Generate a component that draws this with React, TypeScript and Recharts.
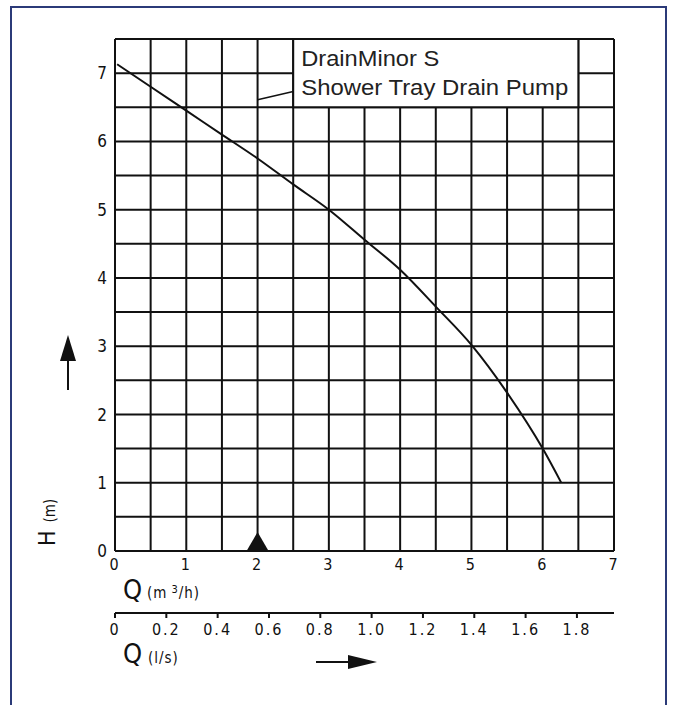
import React from 'react';
import {
  LineChart, Line, XAxis, YAxis, CartesianGrid, ReferenceArea, ReferenceLine, ReferenceDot, Label,
} from 'recharts';

// pump curve: Q in m3/h, H in m
const flowM3h = [0.03, 0.5, 1.0, 1.5, 2.0, 2.5, 3.0, 3.5, 4.0, 4.5, 5.0, 5.5, 6.0, 6.26];
const headM = [7.13, 6.8, 6.45, 6.1, 5.75, 5.37, 5.0, 4.56, 4.12, 3.58, 3.02, 2.32, 1.5, 1.0];

const ticksQ = [0, 1, 2, 3, 4, 5, 6, 7];
const ticksH = [0, 1, 2, 3, 4, 5, 6, 7];
const ticksLs = [0, 0.2, 0.4, 0.6, 0.8, 1.0, 1.2, 1.4, 1.6, 1.8];
const gridQ = [0, 0.5, 1, 1.5, 2, 2.5, 3, 3.5, 4, 4.5, 5, 5.5, 6, 6.5, 7];
const gridH = [0, 0.5, 1, 1.5, 2, 2.5, 3, 3.5, 4, 4.5, 5, 5.5, 6, 6.5, 7, 7.5];

const titleLines = ['DrainMinor S', 'Shower Tray Drain Pump'];
const markerQ = 2;

// 1 l/s = 3.6 m3/h, the l/s scale is drawn on the m3/h axis
const LS_TO_M3H = 3.6;

const curveData = flowM3h.map((q, i) => ({ q, h: headM[i] }));

const isoFont = "'DejaVu Sans Condensed', 'Liberation Sans Narrow', 'DejaVu Sans', sans-serif";
const ink = '#111';

const tickStyle = { fontFamily: isoFont, fontSize: 16, fill: ink, letterSpacing: 2 };

const QmLabel = (props: any) => {
  const { x, y } = props.viewBox;
  return (
    <g>
      <text x={x + 8} y={y + 48} fontFamily={isoFont} fontSize={27} fill={ink}>Q</text>
      <text x={x + 32} y={y + 47} fontFamily={isoFont} fontSize={15} fill={ink} letterSpacing={1}>
        (m
        <tspan dx={4} dy={-5} fontSize={11}>3</tspan>
        <tspan dy={5}>/h)</tspan>
      </text>
    </g>
  );
};

const QlsLabel = (props: any) => {
  const { x, y } = props.viewBox;
  const ay = y + 49;
  return (
    <g>
      <text x={x + 8} y={y + 50} fontFamily={isoFont} fontSize={27} fill={ink}>Q</text>
      <text x={x + 33} y={y + 49.5} fontFamily={isoFont} fontSize={15} fill={ink} letterSpacing={1}>(l/s)</text>
      <line x1={x + 201} x2={x + 235} y1={ay} y2={ay} stroke={ink} strokeWidth={2} />
      <polygon points={`${x + 233},${ay - 7} ${x + 262},${ay} ${x + 233},${ay + 7}`} fill={ink} />
    </g>
  );
};

const HLabel = (props: any) => {
  const { x, y, height } = props.viewBox;
  const bx = x + 20;
  const by = y + height - 5;
  const ax = x + 33;
  return (
    <g>
      <text x={bx} y={by} transform={`rotate(-90, ${bx}, ${by})`} fontFamily={isoFont} fill={ink}>
        <tspan fontSize={23}>H</tspan>
        <tspan fontSize={15} dx={8}>(m)</tspan>
      </text>
      <line x1={ax} x2={ax} y1={y + 351} y2={y + 320} stroke={ink} strokeWidth={2} />
      <polygon points={`${ax - 8},${y + 322} ${ax},${y + 296} ${ax + 8},${y + 322}`} fill={ink} />
    </g>
  );
};

const BoxLabel = (props: any) => {
  const { x, y } = props.viewBox;
  return (
    <g fontFamily="'Liberation Sans', Arial, sans-serif" fontSize={22} fill="#222">
      <text x={x + 8} y={y + 27} textLength={138} lengthAdjust="spacingAndGlyphs">{titleLines[0]}</text>
      <text x={x + 8} y={y + 56} textLength={267} lengthAdjust="spacingAndGlyphs">{titleLines[1]}</text>
    </g>
  );
};

const Marker = (props: any) => {
  const { cx, cy } = props;
  return <polygon points={`${cx - 11},${cy} ${cx + 11},${cy} ${cx},${cy - 19}`} fill={ink} />;
};

const App = () => {
  return (
    <div style={{ position: 'absolute', left: 0, top: 0, width: 674, height: 705, background: '#fff', overflow: 'hidden' }}>
      <div style={{
        position: 'absolute', left: 10, top: 6, width: 657, height: 740,
        border: '2px solid #2b3a78', boxSizing: 'border-box',
      }} />
      <div style={{ position: 'absolute', left: 0, top: 0 }}>
        <LineChart width={674} height={705} data={curveData} margin={{ top: 39, right: 60, bottom: 52, left: 35 }}>
          <CartesianGrid
            xAxisId="a" yAxisId="h"
            stroke={ink} strokeWidth={2}
            horizontalValues={gridH} verticalValues={gridQ}
          />
          <XAxis
            xAxisId="a" dataKey="q" type="number" domain={[0, 7]} ticks={ticksQ}
            axisLine={false} tickLine={false} height={62} tick={tickStyle} interval={0}
          >
            <Label content={QmLabel} />
          </XAxis>
          <XAxis
            xAxisId="b" dataKey="q" type="number" domain={[0, 7]}
            ticks={ticksLs.map((v) => v * LS_TO_M3H)}
            axisLine={{ stroke: ink, strokeWidth: 2 }} tickLine={{ stroke: ink, strokeWidth: 2 }}
            tickSize={5} tickMargin={6} height={40} tick={tickStyle} interval={0}
            tickFormatter={(v: number) => (v === 0 ? '0' : (v / LS_TO_M3H).toFixed(1))}
          >
            <Label content={QlsLabel} />
          </XAxis>
          <YAxis
            yAxisId="h" type="number" domain={[0, 7.5]} ticks={ticksH} width={80}
            axisLine={false} tickLine={false} interval={0}
            tick={{ ...tickStyle, fontSize: 17, letterSpacing: 0 }}
          >
            <Label content={HLabel} />
          </YAxis>
          <ReferenceArea
            xAxisId="a" yAxisId="h" x1={2.5} x2={6.5} y1={6.5} y2={7.5}
            fill="#fff" fillOpacity={1} stroke={ink} strokeWidth={2}
            label={<BoxLabel />}
          />
          <ReferenceLine
            xAxisId="a" yAxisId="h"
            segment={[{ x: 2.0, y: 6.61 }, { x: 2.5, y: 6.73 }]}
            stroke={ink} strokeWidth={1.5}
          />
          <Line
            xAxisId="a" yAxisId="h" dataKey="h" type="monotone"
            stroke={ink} strokeWidth={2} dot={false} isAnimationActive={false}
          />
          <ReferenceDot
            xAxisId="a" yAxisId="h" x={markerQ} y={0} ifOverflow="visible" shape={<Marker />}
          />
        </LineChart>
      </div>
    </div>
  );
};

export default App;
